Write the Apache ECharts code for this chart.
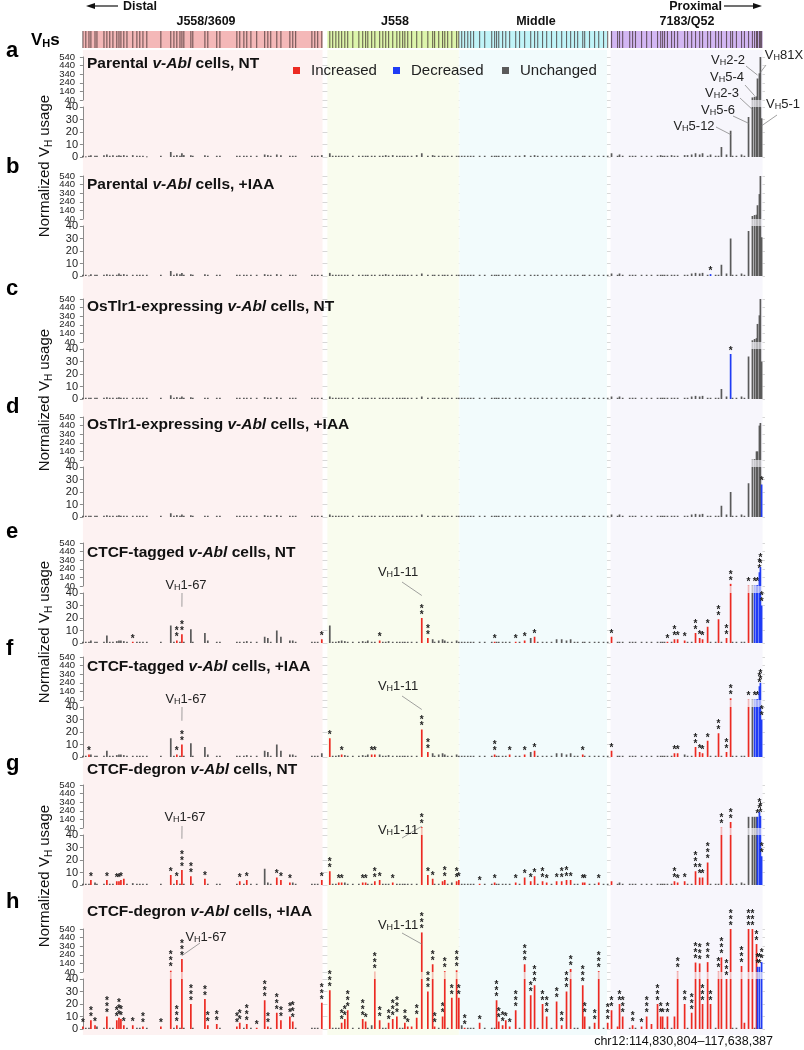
<!DOCTYPE html>
<html><head><meta charset="utf-8">
<script src="https://cdn.jsdelivr.net/npm/echarts@6/dist/echarts.min.js"></script>
<style>html,body{margin:0;padding:0;background:#fff}#c{width:804px;height:1050px}</style>
</head><body><div id="c"></div>
<script>
// ---------------- DATA ----------------
// gene positions: kb from the distal end of the locus (chr12:114,830,804-117,638,387, 2808 kb)
const genePos = [0,12,25,33,50,58,87,99,111,124,140,149,157,169,182,206,223,235,248,264,322,363,376,388,401,409,417,446,454,504,516,553,566,636,648,665,677,694,718,751,764,776,801,818,855,867,879,946,958,970,987,1020,1032,1045,1057,1069,1082,1094,1115,1140,1156,1168,1177,1193,1206,1226,1239,1251,1263,1280,1297,1309,1321,1330,1342,1358,1379,1400,1425,1445,1453,1470,1486,1495,1507,1524,1544,1553,1565,1577,1590,1602,1614,1639,1660,1689,1701,1709,1718,1734,1747,1763,1788,1804,1825,1850,1866,1879,1899,1916,1936,1957,1978,1998,2015,2031,2044,2065,2073,2093,2114,2131,2151,2168,2184,2209,2217,2230,2259,2271,2283,2308,2329,2349,2374,2387,2395,2403,2415,2432,2444,2457,2486,2498,2515,2531,2548,2560,2581,2593,2614,2626,2638,2659,2676,2684,2700,2721,2733,2750,2766,2775,2783,2787,2795,2799,2804];

const regionNames = ['J558/3609','J558','Middle','7183/Q52'];
const regionStart = [0,1010,1555,2180];
const regionEnd   = [990,1553,2165,2808];

const valA = [1,0.5,1,1.5,1,1,1.5,2,1,1.5, 1,1.5,1,1.5,1,1.5,1,1,1,0.5, 1,4,1,1.5,1,3,1.5,1.5,1,1.5, 1,1,1,1,1,1,1,1,1,2, 1.5,1,2,1.5,1,1,1,1,1,1, 1.5,3,1,1,1,1,1,1,1,1, 1,1,1,1,1,1,1,1.5,1,1.5, 1,1,1,1,1,1,1.5,3,1,1.5, 1,1,1,1,1,1,1,1,1,1, 1,1,1,1,1,1,1,1,1,1, 1,1,1,1,1.5,1,1.5,1,1,1, 1,1,1,1,1,1,1,1,1,1, 1,1,1,1,3,1,2,1,1,1, 1,1,1,1,1,1.5,1,1,1,1.5, 1,1,1.5,1.5,2,3,2,3,1,2, 1,1,8,2,21,1,1,2,1,32, 70,78,82,290,350,540,31];
const valB = [1,1,0.5,1.5,1,1,1,1.5,1,1, 1,2,1,1.5,1,1,1,1,1,1, 1,4,1,2,1.5,2.5,1,1.5,1,1.5, 1,1,1,1,1,1,1,1,1,1.5, 1,1,1.5,1,1,1,1,1,1,1, 1,2.5,1,1,1,1,1,1,1,1, 1,1,1,1,1,1,1,1.5,1,1, 1,1,1,1,1,1,1,2,1,1, 1,1,1,1,1,1,1,1,1,1, 1,1,1,1,1,1,1,1,1,1, 1,1,1,1,1,1,1,1,1,1, 1,1,1,1,1,1,1,1,1,1, 1,1,1,1,2,1,2,1,1,1, 1,1,1,1,1,1,1,1,1,1, 1,1,1,1,2,2.5,2,2.5,1,1.5, 1,1,9,2,30,1,1,2,1,36, 75,86,90,200,330,540,31];
const valC = [1,1,1,1,1,1,1,1.5,1,1, 1,1.5,1,1,1,1,1,1,1,1, 1,3,1,1.5,1,2,1,1.5,1,1, 1,1,1,1,1,1,1,1,1,1.5, 1,1,1.5,1,1,1,1,1,1,1, 1,2,1,1,1,1,1,1,1,1, 1,1,1,1,1,1,1,1,1,1, 1,1,1,1,1,1,1,2,1,1, 1,1,1,1,1,1,1,1,1,1, 1,1,1,1,1,1,1,1,1,1, 1,1,1,1,1,1,1,1,1,1, 1,1,1,1,1,1,1,1,1,1, 1,1,1,1,2,1,2,1,1,1, 1,1,1,1,1,1,1,1,1,1, 1,1,1,1,2,2.5,2,2.5,1,1, 1,1,8,2,36,1,1,2,1,34, 60,75,85,250,350,540,30];
const valD = [1,1,1,1,1,1,1,1.5,1,1, 1,1.5,1,1,1,1,1,1,1,1, 1,3,1,1.5,1,2,1,1.5,1,1, 1,1,1,1,1,1,1,1,1,1.5, 1,1,1.5,1,1,1,1,1,1,1, 1,2,1,1,1,1,1,1,1,1, 1,1,1,1,1,1,1,1,1,1, 1,1,1,1,1,1,1,2,1,1, 1,1,1,1,1,1,1,1,1,1, 1,1,1,1,1,1,1,1,1,1, 1,1,1,1,1,1,1,1,1,1, 1,1,1,1,1,1,1,1,1,1, 1,1,1,1,2,1,2,1,1,1, 1,1,1,1,1,1,1,1,1,1, 1,1,1,1,2,2.5,2,2.5,1,1, 1,1,9,2,20,1,1,2,1,27, 45,50,140,140,440,470,26];
const valE = [1,1,1,2,1,1,1,6,1,1, 1.5,2,2,1.5,1,1,1,1,1,1, 1,14,1,2,1,7,1,11,1,8, 2,1,1,1,1,1,1.5,1,1,5, 4,1,10,5,2,2,1,1,1,1, 3,14,1,1,1.5,2,1.5,1,1,1, 1.5,1,2,1,1,2,1,1,1.5,1, 1,1,1,1,1,1,1,20,4,3, 1,2,3,2,1,1,2,1,1,1, 1,1,1,1,1,1,1,1,1,1, 1,1,1,1,2,4,5,1,1,1, 1,3,3,2,3,1,1,1,1,1, 1,1,1,1,5,1,1,1,1,1, 1,1,1,1,1,1,1,1,1,1, 3,3,2,1,1,8,4,3,13,1, 1,19,1,4,65,1,1,1,1,45, 45,45,45,50,200,260,30];
const valF = [1,1,2,2,1,1,1,5,1,1, 1.5,2,2,1.5,1,1,1,1,1,1, 1,15,1,2,1,10,1,11,1,8, 2,1,1,1,1,1,1.5,1,1,5, 4,1,10,5,2,2,1,1,1,1, 3,15,1,1,1.5,2,1.5,1,1,1, 1.5,1,2,2,2,2,1,1,1.5,1, 1,1,1,1,1,1,1,22,4,3, 1,2,3,2,1,1,2,1,1,1, 1,1,1,1,1,1,2,1,1,1, 1,2,1,1,2,4,5,1,1,1, 1,3,3,2,3,1,1,2,1,1, 1,1,1,1,5,1,1,1,1,1, 1,1,1,1,1,1,1,1,1,1, 3,3,2,1,1,8,4,3,13,1, 1,19,1,4,60,1,1,1,1,45, 45,45,45,50,200,240,30];
const valG = [1,1,1,4,2,1,1,4,1,1, 3,3,4,5,1,1.5,1,1,1,1, 1,8,1,4,1,12,1,7,1,5, 1,1,1,1,3,1,4,1,1,13, 2,1,6,4,2,2,1,1,1,1, 4,11,1,1,2,2,2,1,1,1, 2,2,1,1,3,4,1,1,1,2, 1,1,1,1,1,1,1,50,8,5, 1,1,3,4,1,2,3,4,1,1, 1,1,1,1,1,1,2,1,1,1, 1,1,2,1,6,3,7,1,3,2, 1,3,3,4,4,1,1,2,2,1, 1,2,1,1,3,1,2,1,1,1, 1,1,1,1,1,1,1,1,1,1, 3,2,3,1,1,11,6,6,18,1, 1,1,45,1,110,1,1,2,1,170, 170,170,170,170,225,180,23];
const valH = [2,1,1,7,3,2,1,10,1,1, 7,9,8,3,1,3,1,1,2,1, 2,55,1,3,1,190,1,20,1,24, 3,4,1,2,5,1,4,1,1,23, 2,1,13,7,10,6,1,1,1,1, 21,31,1,1,1,5,8,15,1,1, 8,6,1,3,42,7,1,1,5,8, 10,1,1,5,2,2,9,500,30,130, 2,1,10,50,1,25,60,25,3,1, 1,1,1,5,1,1,1,23,6,3, 7,2,15,1,130,27,35,1,20,10, 1,22,3,30,75,1,1,35,10,2, 5,50,1,5,15,2,20,10,1,3, 1,2,10,4,20,10,10,1,10,1, 10,45,20,1,13,150,140,20,155,20, 1,45,210,40,540,1,1,110,5,540, 540,1,365,100,100,1,155];

// significant changes: [gene index, direction (1 increased, -1 decreased), number of stars]
const chgA = [];
const chgB = [[149,-1,1]];
const chgC = [[154,-1,1]];
const chgD = [[166,-1,1]];
const chgE = [[15,1,1],[23,1,2],[25,1,2],[50,1,1],[65,1,1],[77,1,2],[78,1,2],[96,1,1],[102,1,1],[104,1,1],[106,1,1],[124,1,1],[138,1,1],[140,1,2],[141,1,1],[142,1,1],[145,1,2],[146,1,1],[147,1,1],[148,1,1],[151,1,2],[153,1,2],[154,1,2],[159,1,1],[161,-1,1],[162,-1,0],[163,-1,1],[164,-1,2],[165,-1,2],[166,-1,2]];
const chgF = [[2,1,1],[23,1,1],[25,1,2],[51,1,1],[55,1,1],[63,1,1],[64,1,1],[77,1,2],[78,1,2],[96,1,2],[101,1,1],[104,1,1],[106,1,1],[117,1,1],[124,1,1],[140,1,1],[141,1,1],[145,1,2],[146,1,1],[147,1,1],[148,1,1],[151,1,2],[153,1,2],[154,1,2],[159,1,1],[161,-1,1],[162,-1,0],[163,-1,1],[164,-1,2],[165,-1,2],[166,-1,2]];
const chgG = [[3,1,1],[7,1,1],[10,1,1],[11,1,1],[12,1,1],[13,1,0],[21,1,1],[23,1,1],[25,1,3],[27,1,2],[29,1,1],[34,1,1],[36,1,1],[42,1,1],[43,1,1],[44,1,1],[50,1,1],[51,1,2],[54,1,1],[55,1,1],[60,1,1],[61,1,1],[64,1,2],[65,1,1],[69,1,1],[77,1,2],[78,1,1],[79,1,1],[82,1,0],[83,1,2],[86,1,2],[87,1,1],[93,1,1],[96,1,1],[102,1,1],[104,1,1],[105,1,1],[106,1,1],[108,1,2],[109,1,1],[111,1,1],[112,1,2],[113,1,2],[114,1,1],[117,1,1],[118,1,1],[121,1,1],[124,1,0],[140,1,2],[141,1,1],[142,1,1],[145,1,3],[146,1,2],[147,1,1],[148,1,3],[152,1,2],[154,1,2],[163,-1,1],[164,-1,2],[165,-1,2],[166,-1,2]];
const chgH = [[0,1,1],[3,1,2],[4,1,1],[7,1,3],[10,1,2],[11,1,3],[12,1,2],[13,1,1],[15,1,1],[18,1,2],[20,1,1],[21,1,3],[23,1,3],[25,1,3],[27,1,3],[29,1,2],[30,1,2],[31,1,2],[33,1,2],[34,1,2],[36,1,3],[38,1,1],[39,1,3],[40,1,2],[42,1,3],[43,1,2],[44,1,2],[45,1,3],[50,1,3],[51,1,3],[55,1,2],[56,1,2],[57,1,3],[60,1,3],[61,1,1],[64,1,3],[65,1,2],[68,1,2],[69,1,3],[70,1,3],[73,1,2],[74,1,1],[75,1,0],[76,1,2],[77,1,3],[78,1,3],[79,1,2],[80,1,2],[82,1,2],[83,1,2],[85,1,2],[86,1,3],[87,1,2],[89,1,2],[93,1,1],[97,1,3],[98,1,2],[99,1,2],[100,1,1],[101,1,1],[102,1,3],[104,1,3],[105,1,2],[106,1,3],[108,1,2],[109,1,3],[111,1,2],[112,1,2],[113,1,3],[114,1,2],[117,1,3],[118,1,2],[120,1,2],[121,1,3],[123,1,3],[124,1,2],[125,1,0],[126,1,2],[127,1,3],[129,1,2],[131,1,1],[132,1,3],[133,1,0],[134,1,3],[135,1,2],[136,1,1],[138,1,2],[140,1,0],[141,1,2],[142,1,2],[144,1,3],[145,1,3],[146,1,3],[147,1,3],[148,1,3],[149,1,2],[151,1,2],[152,1,3],[153,1,3],[154,1,3],[157,1,3],[158,1,0],[159,1,3],[160,1,3],[162,1,2],[163,-1,2],[164,-1,2],[166,-1,2]];

const panelLetters = ['a','b','c','d','e','f','g','h'];
const panelTitles = [
  ['Parental ','v-Abl',' cells, NT'],
  ['Parental ','v-Abl',' cells, +IAA'],
  ['OsTlr1-expressing ','v-Abl',' cells, NT'],
  ['OsTlr1-expressing ','v-Abl',' cells, +IAA'],
  ['CTCF-tagged ','v-Abl',' cells, NT'],
  ['CTCF-tagged ','v-Abl',' cells, +IAA'],
  ['CTCF-degron ','v-Abl',' cells, NT'],
  ['CTCF-degron ','v-Abl',' cells, +IAA']
];
const lowerTicks = [0,10,20,30,40];
const upperTicks = [40,140,240,340,440,540];
const legendNames = ['Increased','Decreased','Unchanged'];

// gene labels: [panel, gene index, label suffix, endValue]
const geneLabels = [
  [0,165,'81X',360],[0,163,'2-2',330],[0,161,'5-4',90],[0,160,'2-3',38],[0,166,'5-1',25],[0,159,'5-6',27],[0,154,'5-12',18],
  [4,25,'1-67',29],[4,77,'1-11',38],
  [5,25,'1-67',29],[5,77,'1-11',38],
  [6,25,'1-67',37],[6,77,'1-11',60],
  [7,25,'1-67',230],[7,77,'1-11',365]
];

// ---------------- LAYOUT / STYLE ----------------
const FONT = 'Liberation Sans, Arial, Helvetica, sans-serif';
const RED = '#ec2a22', BLUE = '#1f3cf5', GRAY = '#5a5a5a';
const regionBand = ['#f4b8b8','#ddf5ac','#c1f4f8','#d3b7f3'];
const regionTint = ['#fdf2f2','#f9fcee','#f2fbfc','#f7f6fc'];
const tops = [57,176,299,417,543,657,785,929];
const titleY = [64,185,307,425,553,667,770,912];
const letterY = [52,168,290,408,533,650,765,903];
const labelPos = { // label centre and leader start
  '0-165':[784,55,766,65], '0-163':[728,60,746,66], '0-161':[727,77,745,85], '0-160':[722,93,740,98],
  '0-166':[783,104,777,115], '0-159':[718,110,733,116], '0-154':[694,126,716,127],
  '4-25':[186,585,182,593], '4-77':[398,572,402,582],
  '5-25':[186,699,182,707], '5-77':[398,686,402,696],
  '6-25':[185,817,182,826], '6-77':[398,830,402,838],
  '7-25':[206,937,200,943], '7-77':[398,925,402,933]
};
const XMIN=-12, XMAX=2818, GL=80, GW=685, BW=1.7;

const vals=[valA,valB,valC,valD,valE,valF,valG,valH];
const chgs=[chgA,chgB,chgC,chgD,chgE,chgF,chgG,chgH];

function render(part){
  return function(params, api){
    const x=api.value(0), v=api.value(1), dir=api.value(2), n=api.value(3);
    const col = dir>0?RED:(dir<0?BLUE:GRAY);
    const kids=[]; let top=null, cx=null;
    if(part===0){
      const a=api.coord([x,0]), b=api.coord([x,Math.min(v,40)]);
      cx=a[0];
      kids.push({type:'rect',shape:{x:cx-BW/2,y:b[1],width:BW,height:Math.max(a[1]-b[1],0.9)},style:{fill:col}});
      if(v>40) kids.push({type:'rect',shape:{x:cx-BW/2,y:b[1]-7,width:BW,height:7},style:{fill:col,opacity:0.3}});
      else top=b[1];
    } else if(v>40){
      const a=api.coord([x,0]), b=api.coord([x,v-40]);
      cx=a[0];
      kids.push({type:'rect',shape:{x:cx-BW/2,y:b[1],width:BW,height:a[1]-b[1]},style:{fill:col}});
      top=b[1];
    }
    if(top!==null){
      for(let k=0;k<n;k++) kids.push({type:'text',style:{text:'*',x:cx,y:top-3-k*6,textAlign:'center',textVerticalAlign:'middle',font:'bold 10px '+FONT,fill:'#222'}});
    }
    return {type:'group',children:kids};
  };
}

const grid=[], xAxis=[], yAxis=[], series=[];
function addGrid(top,height){
  grid.push({left:GL,width:GW,top:top,height:height});
  const i=grid.length-1;
  xAxis.push({type:'value',gridIndex:i,min:XMIN,max:XMAX,show:false});
  return i;
}
// background tint
let gi=addGrid(50,985);
yAxis.push({type:'value',gridIndex:gi,min:0,max:1,show:false});
const regionData = regionNames.map((n,i)=>[regionStart[i],regionEnd[i],i]);
series.push({type:'custom',xAxisIndex:gi,yAxisIndex:gi,silent:true,z:0,data:regionData,
  renderItem:(p,api)=>{const a=api.coord([api.value(0),0]),b=api.coord([api.value(1),1]);
    return {type:'rect',shape:{x:a[0],y:b[1],width:b[0]-a[0],height:a[1]-b[1]},style:{fill:regionTint[api.value(2)]}};}});
// VH band
gi=addGrid(31,17);
yAxis.push({type:'value',gridIndex:gi,min:0,max:1,show:false});
series.push({type:'custom',xAxisIndex:gi,yAxisIndex:gi,silent:true,z:1,data:regionData,
  renderItem:(p,api)=>{const a=api.coord([api.value(0),0]),b=api.coord([api.value(1),1]);
    return {type:'rect',shape:{x:a[0],y:b[1],width:b[0]-a[0],height:a[1]-b[1]},style:{fill:regionBand[api.value(2)]}};}});
series.push({type:'custom',xAxisIndex:gi,yAxisIndex:gi,silent:true,z:2,data:genePos.map(p=>[p]),
  renderItem:(p,api)=>{const a=api.coord([api.value(0),0]),b=api.coord([api.value(0),1]);
    return {type:'line',shape:{x1:a[0],y1:a[1],x2:b[0],y2:b[1]},style:{stroke:'rgba(55,40,40,0.7)',lineWidth:1.1}};}});

const axisStyle = {axisLine:{show:true,lineStyle:{color:'#8a8a8a',width:1}},axisTick:{show:true,length:3,lineStyle:{color:'#8a8a8a'}},
  splitLine:{show:true,lineStyle:{color:'#d8d8d8',width:1}}};
const panelGrid=[];
for(let p=0;p<8;p++){
  const cmap={}; chgs[p].forEach(c=>{cmap[c[0]]=c;});
  const data=genePos.map((x,i)=>{const c=cmap[i]; return [x, vals[p][i], c?c[1]:0, c?c[2]:0];});
  const up=addGrid(tops[p],43);
  // upper segment: axis counts from 0 (= 40 on the broken scale); labels are drawn below
  yAxis.push(Object.assign({type:'value',gridIndex:up,min:0,max:upperTicks[upperTicks.length-1]-upperTicks[0],interval:upperTicks[1]-upperTicks[0],
    axisLabel:{show:false}},axisStyle));
  series.push({type:'custom',xAxisIndex:up,yAxisIndex:up,clip:false,z:5,data:data,renderItem:render(1)});
  const lo=addGrid(tops[p]+50,50);
  yAxis.push(Object.assign({type:'value',gridIndex:lo,min:lowerTicks[0],max:lowerTicks[lowerTicks.length-1],interval:lowerTicks[1]-lowerTicks[0],
    axisLabel:{fontSize:11,color:'#222',margin:2,fontFamily:FONT,showMinLabel:true,showMaxLabel:true,hideOverlap:false}},axisStyle));
  series.push({type:'custom',xAxisIndex:lo,yAxisIndex:lo,clip:false,z:5,data:data,renderItem:render(0)});
  panelGrid.push([up,lo]);
}

const chart=echarts.init(document.getElementById('c'),null,{renderer:'canvas'});
chart.setOption({animation:false,grid,xAxis,yAxis,series});

// ---------------- TEXT / ANNOTATIONS ----------------
const g=[];
for(let p=0;p<8;p++){
  g.push({type:'text',left:6,top:letterY[p]-12,style:{text:panelLetters[p],font:'bold 22px '+FONT,fill:'#000'}});
  const t=panelTitles[p];
  g.push({type:'text',x:87,y:titleY[p],style:{text:'{b|'+t[0]+'}{bi|'+t[1]+'}{b|'+t[2]+'}',rich:{b:{fontFamily:FONT,fontWeight:'bold',fontSize:15.5,fill:'#111'},bi:{fontFamily:FONT,fontWeight:'bold',fontStyle:'italic',fontSize:15.5,fill:'#111'}},textVerticalAlign:'middle'}});
  // upper-segment tick labels placed through the axis scale
  const up=panelGrid[p][0];
  upperTicks.forEach(t=>{
    const pt=chart.convertToPixel({xAxisIndex:up,yAxisIndex:up},[XMIN,t-upperTicks[0]]);
    g.push({type:'text',x:pt[0]-5,y:pt[1],style:{text:String(t),font:'9.5px '+FONT,fill:'#222',textAlign:'right',textVerticalAlign:'middle'}});
  });
}
// y-axis titles
[166,400,632,876].forEach(cy=>{
  g.push({type:'text',x:45,y:cy,rotation:Math.PI/2,style:{text:'{n|Normalized V}{s|H}{n| usage}',textAlign:'center',textVerticalAlign:'middle',
    rich:{n:{fontFamily:FONT,fontSize:15,fill:'#111'},s:{fontFamily:FONT,fontSize:10,fill:'#111',padding:[8,0,0,0]}}}});
});
// legend
const legCols=[RED,BLUE,GRAY], legX=[293,393,502];
legendNames.forEach((n,i)=>{
  g.push({type:'rect',shape:{x:legX[i],y:67,width:7,height:7},style:{fill:legCols[i]}});
  g.push({type:'text',x:legX[i]+18,y:71,style:{text:n,font:'15px '+FONT,fill:'#222',textVerticalAlign:'middle'}});
});
// top header
g.push({type:'text',x:31,y:40,style:{text:'{b|V}{s|H}{b|s}',textVerticalAlign:'middle',rich:{b:{fontFamily:FONT,fontWeight:'bold',fontSize:17,fill:'#000'},s:{fontFamily:FONT,fontWeight:'bold',fontSize:11,fill:'#000',padding:[8,0,0,0]}}}});
const regionLabelX=[206,395,536,687];
regionNames.forEach((n,i)=>g.push({type:'text',x:regionLabelX[i],y:22,style:{text:n,font:'bold 12.5px '+FONT,fill:'#111',textAlign:'center',textVerticalAlign:'middle'}}));
g.push({type:'text',x:123,y:7,style:{text:'Distal',font:'bold 12.5px '+FONT,fill:'#111',textVerticalAlign:'middle'}});
g.push({type:'line',shape:{x1:90,y1:6,x2:118,y2:6},style:{stroke:'#111',lineWidth:1.2}});
g.push({type:'polygon',shape:{points:[[86,6],[95,3],[95,9]]},style:{fill:'#111'}});
g.push({type:'text',x:722,y:7,style:{text:'Proximal',font:'bold 12.5px '+FONT,fill:'#111',textAlign:'right',textVerticalAlign:'middle'}});
g.push({type:'line',shape:{x1:724,y1:6,x2:754,y2:6},style:{stroke:'#111',lineWidth:1.2}});
g.push({type:'polygon',shape:{points:[[762,6],[753,3],[753,9]]},style:{fill:'#111'}});
g.push({type:'text',x:773,y:1042,style:{text:'chr12:114,830,804\u2013117,638,387',font:'12.5px '+FONT,fill:'#111',textAlign:'right',textVerticalAlign:'middle'}});

// gene labels with leader lines
geneLabels.forEach(([p,gidx,lab,ev])=>{
  const pos=labelPos[p+'-'+gidx];
  const [up,lo]=panelGrid[p];
  const pt = ev>40 ? chart.convertToPixel({xAxisIndex:up,yAxisIndex:up},[genePos[gidx],ev-40])
                   : chart.convertToPixel({xAxisIndex:lo,yAxisIndex:lo},[genePos[gidx],ev]);
  g.push({type:'line',z:10,shape:{x1:pos[2],y1:pos[3],x2:pt[0],y2:pt[1]},style:{stroke:'#888',lineWidth:0.8}});
  g.push({type:'text',z:11,x:pos[0],y:pos[1],style:{text:'{n|V}{s|H}{n|'+lab+'}',textAlign:'center',textVerticalAlign:'middle',
    rich:{n:{fontFamily:FONT,fontSize:13,fill:'#222'},s:{fontFamily:FONT,fontSize:9,fill:'#222',padding:[6,0,0,0]}}}});
});
chart.setOption({graphic:g});
</script></body></html>
